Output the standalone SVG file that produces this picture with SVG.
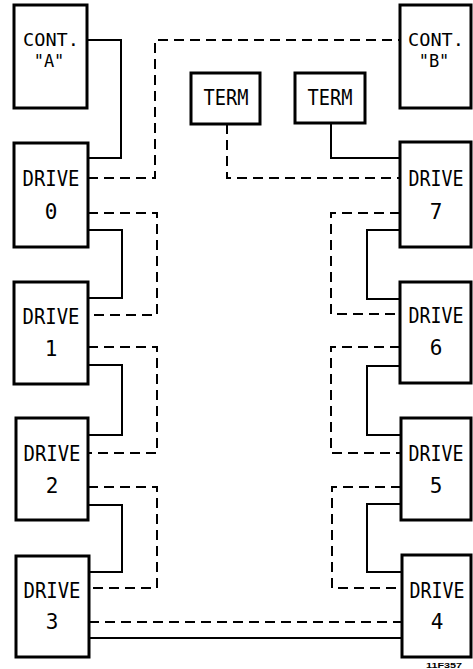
<svg xmlns="http://www.w3.org/2000/svg" width="473" height="669" viewBox="0 0 473 669">
<style>
.box{fill:#fff;stroke:#000;stroke-width:3}
.t{font-family:"DejaVu Sans Mono",monospace;font-size:21px;fill:#000;text-anchor:middle}
.c{font-family:"DejaVu Sans Mono",monospace;font-size:17px;fill:#000;text-anchor:middle}
.s{fill:none;stroke:#000;stroke-width:2}
.d{fill:none;stroke:#000;stroke-width:2;stroke-dasharray:10 6}
</style>
<rect width="473" height="669" fill="#fff"/>
<g id="connectors">
<polyline class="s" points="87,40 121,40 121,158 88,158"/>
<polyline class="d" points="88,178 155,178 155,40 400,40"/>
<polyline class="d" points="227,124 227,178 400,178"/>
<polyline class="s" points="331,123 331,158 400,158"/>
<polyline class="d" points="88,213 157,213 157,315 88,315"/>
<polyline class="s" points="88,230 122,230 122,298 88,298"/>
<polyline class="d" points="88,347 157,347 157,453 88,453"/>
<polyline class="s" points="88,365 122,365 122,435 88,435"/>
<polyline class="d" points="88,487 157,487 157,588 88,588"/>
<polyline class="s" points="88,505 122,505 122,572 88,572"/>
<polyline class="d" points="89,622 402,622"/>
<polyline class="s" points="89,638 402,638"/>
<polyline class="d" points="400,213 331,213 331,314 400,314"/>
<polyline class="s" points="400,230 367,230 367,299 400,299"/>
<polyline class="d" points="400,347 331,347 331,453 400,453"/>
<polyline class="s" points="400,366 367,366 367,435 400,435"/>
<polyline class="d" points="401,487 332,487 332,588 402,588"/>
<polyline class="s" points="401,504 367,504 367,572 402,572"/>
</g>
<g id="contA"><rect class="box" x="14" y="5" width="73" height="103"/><text class="c" x="51" y="46" textLength="56" lengthAdjust="spacingAndGlyphs">CONT.</text><text class="c" x="49" y="67">"A"</text></g>
<g id="contB"><rect class="box" x="400" y="5" width="71" height="103"/><text class="c" x="436" y="46" textLength="56" lengthAdjust="spacingAndGlyphs">CONT.</text><text class="c" x="434" y="67">"B"</text></g>
<g id="termL"><rect class="box" x="191" y="73" width="69" height="51"/><text class="t" x="226" y="105" textLength="45" lengthAdjust="spacingAndGlyphs">TERM</text></g>
<g id="termR"><rect class="box" x="295" y="73" width="70" height="50"/><text class="t" x="330" y="105" textLength="45" lengthAdjust="spacingAndGlyphs">TERM</text></g>
<g id="drive0"><rect class="box" x="14" y="143" width="74" height="104"/><text class="t" x="51" y="186" textLength="57" lengthAdjust="spacingAndGlyphs">DRIVE</text><text class="t" x="51" y="219">0</text></g>
<g id="drive1"><rect class="box" x="14" y="282" width="74" height="102"/><text class="t" x="51" y="324" textLength="57" lengthAdjust="spacingAndGlyphs">DRIVE</text><text class="t" x="51" y="356">1</text></g>
<g id="drive2"><rect class="box" x="16" y="418" width="72" height="102"/><text class="t" x="52" y="461" textLength="57" lengthAdjust="spacingAndGlyphs">DRIVE</text><text class="t" x="52" y="493">2</text></g>
<g id="drive3"><rect class="box" x="16" y="556" width="73" height="101"/><text class="t" x="52" y="598" textLength="57" lengthAdjust="spacingAndGlyphs">DRIVE</text><text class="t" x="52" y="629">3</text></g>
<g id="drive7"><rect class="box" x="400" y="142" width="71" height="105"/><text class="t" x="436" y="186" textLength="55" lengthAdjust="spacingAndGlyphs">DRIVE</text><text class="t" x="436" y="219">7</text></g>
<g id="drive6"><rect class="box" x="400" y="282" width="71" height="101"/><text class="t" x="436" y="323" textLength="55" lengthAdjust="spacingAndGlyphs">DRIVE</text><text class="t" x="436" y="355">6</text></g>
<g id="drive5"><rect class="box" x="401" y="418" width="70" height="102"/><text class="t" x="436" y="461" textLength="55" lengthAdjust="spacingAndGlyphs">DRIVE</text><text class="t" x="436" y="493">5</text></g>
<g id="drive4"><rect class="box" x="402" y="555" width="69" height="102"/><text class="t" x="437" y="598" textLength="55" lengthAdjust="spacingAndGlyphs">DRIVE</text><text class="t" x="437" y="629">4</text></g>
<text x="444" y="668" font-family="'Liberation Sans',sans-serif" font-size="8" font-weight="bold" text-anchor="middle" textLength="36" lengthAdjust="spacingAndGlyphs">11F357</text>
</svg>
